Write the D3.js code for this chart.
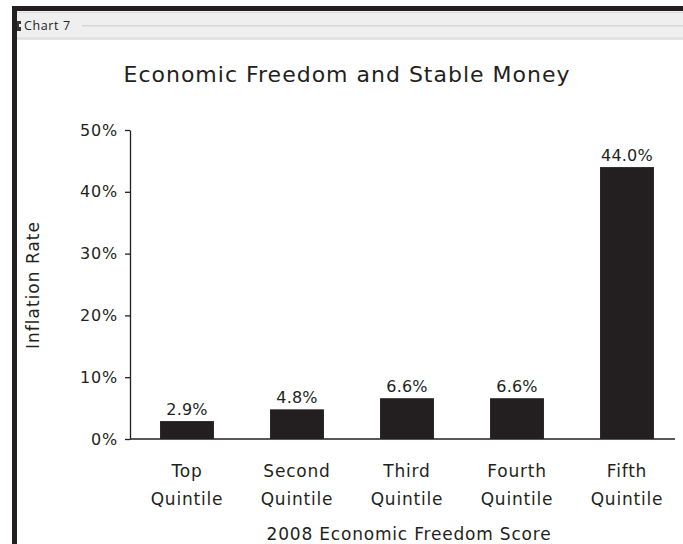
<!DOCTYPE html>
<html>
<head>
<meta charset="utf-8">
<script src="https://cdn.jsdelivr.net/npm/d3@7/dist/d3.min.js"></script>
<style>
  body { margin: 0; background: #fff; }
  svg { display: block; font-family: "DejaVu Sans", sans-serif; }
</style>
</head>
<body>
<svg id="chart" width="683" height="544"></svg>
<script>
// Inflation by 2008 economic freedom quintile
const categoryTop = ["Top", "Second", "Third", "Fourth", "Fifth"];
const categoryBottom = ["Quintile", "Quintile", "Quintile", "Quintile", "Quintile"];
const inflation = [2.9, 4.8, 6.6, 6.6, 44.0];
const yTicks = [0, 10, 20, 30, 40, 50];

const svg = d3.select("#chart");
const W = 683, H = 544;
const ink = "#231f20";
const font = "DejaVu Sans, sans-serif";

// Window frame: dark border, grey tab strip with the sheet name
svg.append("rect").attr("x", 0).attr("y", 0).attr("width", W).attr("height", H).attr("fill", "#fff");
svg.append("rect").attr("x", 17).attr("y", 11).attr("width", W - 17).attr("height", 29).attr("fill", "#efefef");
svg.append("rect").attr("x", 17).attr("y", 12).attr("width", W - 17).attr("height", 1).attr("fill", "#dcdcdc");
svg.append("rect").attr("x", 82).attr("y", 25).attr("width", W - 82).attr("height", 1.5).attr("fill", "#d6d6d6");
svg.append("rect").attr("x", 17).attr("y", 37.5).attr("width", W - 17).attr("height", 2).attr("fill", "#dedede");
svg.append("rect").attr("x", 12).attr("y", 6).attr("width", W - 12).attr("height", 5).attr("fill", ink);
svg.append("rect").attr("x", 12).attr("y", 6).attr("width", 5).attr("height", H - 6).attr("fill", ink);
svg.append("path").attr("d", "M17,21 h4 v3 h-2 v3 h2 v4 h-4 z").attr("fill", "#333");
svg.append("text").attr("x", 24).attr("y", 30).attr("font-size", 12.5).attr("fill", "#222")
  .attr("font-family", "Open Sans, sans-serif").attr("letter-spacing", 0.6).text("Chart 7");

// Scales
const x = d3.scaleBand().domain(d3.range(inflation.length))
  .range([132, 682]).paddingInner(0.51).paddingOuter(0.255);
const y = d3.scaleLinear().domain([0, 50]).range([439, 130]);

// Title
svg.append("text").attr("x", 347).attr("y", 82).attr("text-anchor", "middle")
  .attr("font-size", 22).attr("letter-spacing", 1).attr("fill", ink)
  .text("Economic Freedom and Stable Money");

// Y axis
const yAxis = svg.append("g").attr("transform", "translate(130,0)")
  .call(d3.axisLeft(y).tickValues(yTicks).tickSize(5).tickSizeOuter(0).tickPadding(7)
    .tickFormat(d => d + "%"));
yAxis.selectAll("path, line").attr("stroke", ink).attr("stroke-width", 1.3);
yAxis.selectAll("text").attr("font-family", font).attr("font-size", 16)
  .attr("letter-spacing", 0.8).attr("fill", ink);

// Baseline
svg.append("line").attr("x1", 130).attr("x2", 675).attr("y1", y(0)).attr("y2", y(0))
  .attr("stroke", ink).attr("stroke-width", 1.5);

// Bars
svg.append("g").selectAll("rect").data(inflation).join("rect")
  .attr("x", (d, i) => x(i)).attr("width", x.bandwidth())
  .attr("y", d => y(d)).attr("height", d => y(0) - y(d))
  .attr("fill", ink);

// Value labels
svg.append("g").selectAll("text").data(inflation).join("text")
  .attr("x", (d, i) => x(i) + x.bandwidth() / 2).attr("y", d => y(d) - 6)
  .attr("text-anchor", "middle").attr("font-size", 16).attr("letter-spacing", 0.2)
  .attr("fill", ink)
  .text(d => d.toFixed(1) + "%");

// Category labels (two lines)
const cats = svg.append("g").selectAll("text").data(categoryTop).join("text")
  .attr("text-anchor", "middle").attr("font-size", 17).attr("letter-spacing", 0.8)
  .attr("fill", ink);
cats.append("tspan").attr("x", (d, i) => x(i) + x.bandwidth() / 2).attr("y", 477).text(d => d);
cats.append("tspan").attr("x", (d, i) => x(i) + x.bandwidth() / 2).attr("y", 505)
  .text((d, i) => categoryBottom[i]);

// Axis titles
svg.append("text").attr("x", 409).attr("y", 540).attr("text-anchor", "middle")
  .attr("font-size", 17).attr("letter-spacing", 0.8).attr("fill", ink)
  .text("2008 Economic Freedom Score");
svg.append("text").attr("transform", "translate(39,285) rotate(-90)")
  .attr("text-anchor", "middle").attr("font-size", 17).attr("letter-spacing", 1)
  .attr("fill", ink).text("Inflation Rate");
</script>
</body>
</html>
